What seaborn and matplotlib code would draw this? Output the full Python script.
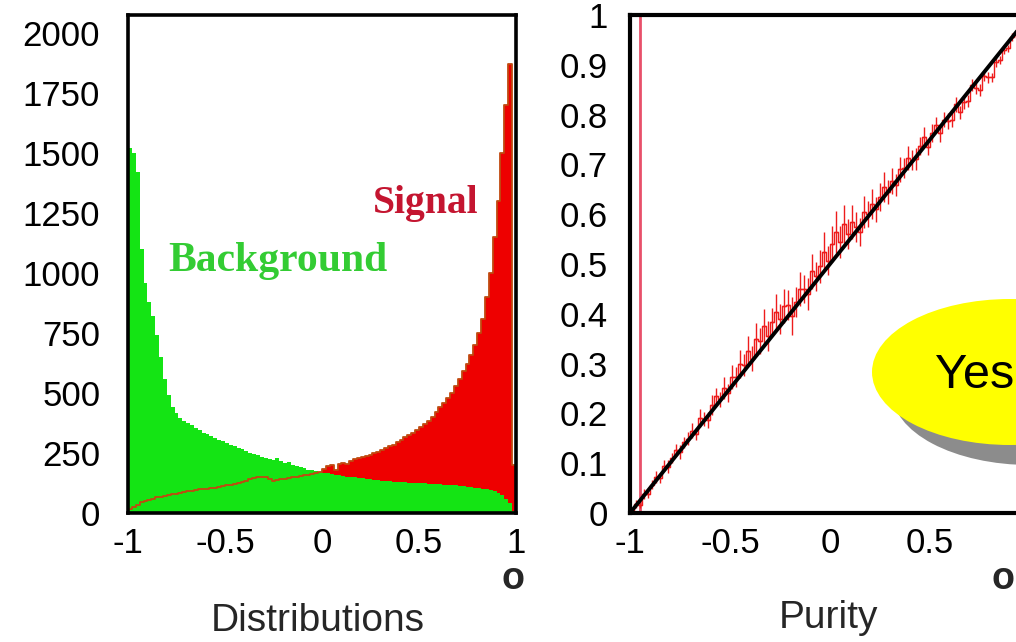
import numpy as np
import pandas as pd
import matplotlib
matplotlib.use("Agg")
import matplotlib.pyplot as plt
from matplotlib.patches import Ellipse
import seaborn as sns

# ---------------- data ----------------
N_BINS = 100
X_RANGE = (-1.0, 1.0)
bin_edges = np.linspace(X_RANGE[0], X_RANGE[1], N_BINS + 1)
bin_centers = (bin_edges[:-1] + bin_edges[1:]) / 2

background = [
    1520, 1500, 1420, 1100, 960, 880, 820, 740, 650, 560,
    490, 440, 415, 395, 385, 375, 365, 355, 345, 335,
    330, 320, 312, 305, 300, 292, 285, 278, 272, 265,
    258, 252, 245, 240, 235, 228, 225, 220, 230, 215,
    208, 212, 200, 195, 190, 188, 180, 178, 175, 170,
    168, 165, 162, 160, 158, 155, 152, 150, 148, 146,
    144, 142, 140, 138, 137, 135, 134, 132, 131, 130,
    129, 128, 127, 126, 125, 124, 123, 122, 121, 120,
    119, 118, 117, 116, 115, 113, 112, 110, 108, 106,
    104, 101, 98, 94, 90, 84, 75, 60, 40, 10,
]

signal = [
    15, 25, 35, 45, 50, 55, 60, 65, 68, 72,
    75, 78, 80, 85, 88, 90, 92, 95, 98, 100,
    102, 105, 105, 108, 112, 115, 118, 122, 125, 130,
    135, 140, 145, 148, 150, 152, 140, 135, 138, 142,
    140, 145, 150, 152, 155, 158, 160, 162, 165, 170,
    185, 195, 200, 180, 205, 210, 205, 215, 225, 230,
    232, 238, 242, 248, 255, 262, 270, 278, 285, 295,
    305, 315, 325, 335, 345, 360, 370, 385, 400, 420,
    440, 460, 480, 500, 530, 560, 590, 620, 660, 700,
    750, 810, 900, 1000, 1150, 1300, 1500, 1700, 1870, 200,
]

purity = [
    0.000, 0.018, 0.017, 0.039, 0.039, 0.057, 0.073, 0.071, 0.095, 0.093,
    0.111, 0.127, 0.122, 0.142, 0.149, 0.165, 0.159, 0.190, 0.189, 0.187,
    0.217, 0.235, 0.228, 0.251, 0.241, 0.273, 0.273, 0.300, 0.297, 0.325,
    0.310, 0.350, 0.345, 0.375, 0.355, 0.383, 0.403, 0.390, 0.415, 0.417,
    0.395, 0.423, 0.450, 0.450, 0.440, 0.485, 0.475, 0.495, 0.525, 0.507,
    0.540, 0.565, 0.545, 0.580, 0.560, 0.585, 0.575, 0.565, 0.605, 0.600,
    0.620, 0.610, 0.635, 0.655, 0.645, 0.667, 0.659, 0.690, 0.693, 0.713,
    0.709, 0.710, 0.737, 0.755, 0.735, 0.763, 0.780, 0.763, 0.790, 0.787,
    0.790, 0.821, 0.805, 0.825, 0.827, 0.859, 0.853, 0.850, 0.877, 0.875,
    0.875, 0.905, 0.910, 0.930, 0.933, 0.955, 0.959, 0.978, 0.981, 0.995,
]

purity_err = [
    0.006, 0.008, 0.007, 0.010, 0.008, 0.009, 0.012, 0.010, 0.011, 0.013,
    0.010, 0.012, 0.014, 0.011, 0.013, 0.015, 0.012, 0.018, 0.014, 0.016,
    0.020, 0.017, 0.015, 0.022, 0.018, 0.024, 0.020, 0.028, 0.022, 0.030,
    0.025, 0.032, 0.026, 0.035, 0.030, 0.028, 0.036, 0.030, 0.034, 0.030,
    0.038, 0.030, 0.034, 0.028, 0.032, 0.036, 0.030, 0.034, 0.040, 0.030,
    0.036, 0.042, 0.032, 0.038, 0.030, 0.034, 0.030, 0.028, 0.032, 0.026,
    0.030, 0.025, 0.028, 0.030, 0.024, 0.026, 0.022, 0.025, 0.020, 0.024,
    0.020, 0.022, 0.018, 0.020, 0.017, 0.019, 0.016, 0.018, 0.015, 0.016,
    0.014, 0.015, 0.013, 0.014, 0.012, 0.012, 0.011, 0.012, 0.010, 0.011,
    0.009, 0.010, 0.008, 0.009, 0.007, 0.008, 0.006, 0.006, 0.005, 0.005,
]

diag_x = [-1.0, 1.0]
diag_y = [0.0, 1.0]

left_xticks = [-1, -0.5, 0, 0.5, 1]
left_xticklabels = ["-1", "-0.5", "0", "0.5", "1"]
left_yticks = [0, 250, 500, 750, 1000, 1250, 1500, 1750, 2000]
left_yticklabels = ["0", "250", "500", "750", "1000", "1250", "1500", "1750", "2000"]
right_xticks = [-1, -0.5, 0, 0.5, 1]
right_xticklabels = ["-1", "-0.5", "0", "0.5", ""]
right_yticks = [0, 0.1, 0.2, 0.3, 0.4, 0.5, 0.6, 0.7, 0.8, 0.9, 1.0]
right_yticklabels = ["0", "0.1", "0.2", "0.3", "0.4", "0.5", "0.6", "0.7", "0.8", "0.9", "1"]

# ---------------- style ----------------
sns.set_theme(style="white")
plt.rcParams["font.family"] = ["Liberation Sans", "DejaVu Sans"]
plt.rcParams["axes.unicode_minus"] = False

GREEN = "#14e414"
RED = "#ee0000"
OUTLINE = "#c04a10"
TICK_FS = 25

W, H = 1016, 642
fig = plt.figure(figsize=(W / 100, H / 100), dpi=100)
fig.patch.set_facecolor("white")


def frac_box(x0, y0, x1, y1):
    return [x0 / W, 1 - y1 / H, (x1 - x0) / W, (y1 - y0) / H]


# ---------------- left panel ----------------
ax1 = fig.add_axes(frac_box(128, 15, 516, 513))
df = pd.DataFrame({"x": bin_centers, "sig": signal, "bkg": background})
hist_kw = dict(data=df, x="x", bins=N_BINS, binrange=X_RANGE, element="step", ax=ax1)
sns.histplot(weights="sig", fill=True, color=RED, alpha=1, linewidth=0, **hist_kw)
sns.histplot(weights="bkg", fill=True, color=GREEN, alpha=1, linewidth=0, **hist_kw)
sns.histplot(weights="sig", fill=False, color=OUTLINE, linewidth=1.3, **hist_kw)
ax1.set_xlim(-1, 1)
ax1.set_ylim(0, 2075)
ax1.set_xlabel("")
ax1.set_ylabel("")
ax1.set_xticks(left_xticks)
ax1.set_xticklabels(left_xticklabels)
ax1.set_yticks(left_yticks)
ax1.set_yticklabels(left_yticklabels)
ax1.set_xticks(np.arange(-1, 1.001, 0.1), minor=True)
ax1.set_yticks(np.arange(0, 2051, 50), minor=True)
ax1.tick_params(axis="both", which="major", direction="in", length=9, width=1.2,
                labelsize=TICK_FS, color="black", labelcolor="black")
ax1.tick_params(axis="both", which="minor", direction="in", length=5, width=0.8,
                color="#333333")
ax1.tick_params(axis="y", which="major", pad=20)
ax1.tick_params(axis="x", which="major", pad=10)
for s in ax1.spines.values():
    s.set_linewidth(2.6)
    s.set_color("black")
ax1.text(-0.795, 1010, "Background", color="#33cc33", fontsize=30,
         fontweight="bold", family="Liberation Serif", va="baseline")
ax1.text(0.26, 1250, "Signal", color="#c41530", fontsize=28.5,
         fontweight="bold", family="Liberation Serif", va="baseline")

# ---------------- right panel ----------------
ax2 = fig.add_axes(frac_box(630, 15, 1030, 513))
ax2.axvline(-0.95, color="#e8506a", linewidth=2.0, zorder=1)
ax2.errorbar(bin_centers, purity, yerr=purity_err, xerr=0.01, fmt="none",
             ecolor="#ee1c1c", elinewidth=1.0, zorder=2)
sns.lineplot(x=bin_centers, y=purity, color="#ee1c1c", linewidth=1.0,
             drawstyle="steps-mid", ax=ax2, zorder=2)
sns.lineplot(x=diag_x, y=diag_y, color="black", linewidth=2.8, ax=ax2, zorder=3)
ax2.set_xlim(-1, 1)
ax2.set_ylim(0, 1)
ax2.set_xlabel("")
ax2.set_ylabel("")
ax2.set_xticks(right_xticks)
ax2.set_xticklabels(right_xticklabels)
ax2.set_yticks(right_yticks)
ax2.set_yticklabels(right_yticklabels)
ax2.set_xticks(np.arange(-1, 1.001, 0.1), minor=True)
ax2.set_yticks(np.arange(0, 1.001, 0.02), minor=True)
ax2.tick_params(axis="both", which="major", direction="in", length=12, width=1.0,
                labelsize=TICK_FS, color="#555555", labelcolor="black")
ax2.tick_params(axis="both", which="minor", direction="in", length=6, width=0.8,
                color="#777777")
ax2.tick_params(axis="y", which="major", pad=16)
ax2.tick_params(axis="x", which="major", pad=10)
for s in ax2.spines.values():
    s.set_linewidth(3.0)
    s.set_color("black")

# ---------------- annotations ----------------
fig.text(318 / W, 1 - 631 / H, "Distributions", fontsize=28, ha="center", va="baseline")
fig.text(828 / W, 1 - 628 / H, "Purity", fontsize=28, ha="center", va="baseline")
fig.text(513 / W, 1 - 579 / H, "o", fontsize=27, fontweight="bold",
         ha="center", va="center")
fig.text(1003 / W, 1 - 579 / H, "o", fontsize=27, fontweight="bold",
         ha="center", va="center")

shadow = Ellipse((1030 / W, 1 - 392 / H), 276 / W, 146 / H,
                 transform=fig.transFigure, facecolor="#8c8c8c", edgecolor="none",
                 zorder=10)
bubble = Ellipse((1010 / W, 1 - 372 / H), 276 / W, 146 / H,
                 transform=fig.transFigure, facecolor="#ffff00", edgecolor="none",
                 zorder=11)
fig.add_artist(shadow)
fig.add_artist(bubble)
t = fig.text(935 / W, 1 - 376 / H, "Yes", fontsize=35, ha="left", va="center",
             color="black")
t.set_zorder(12)

fig.savefig("out.png", dpi=100, facecolor="white")
